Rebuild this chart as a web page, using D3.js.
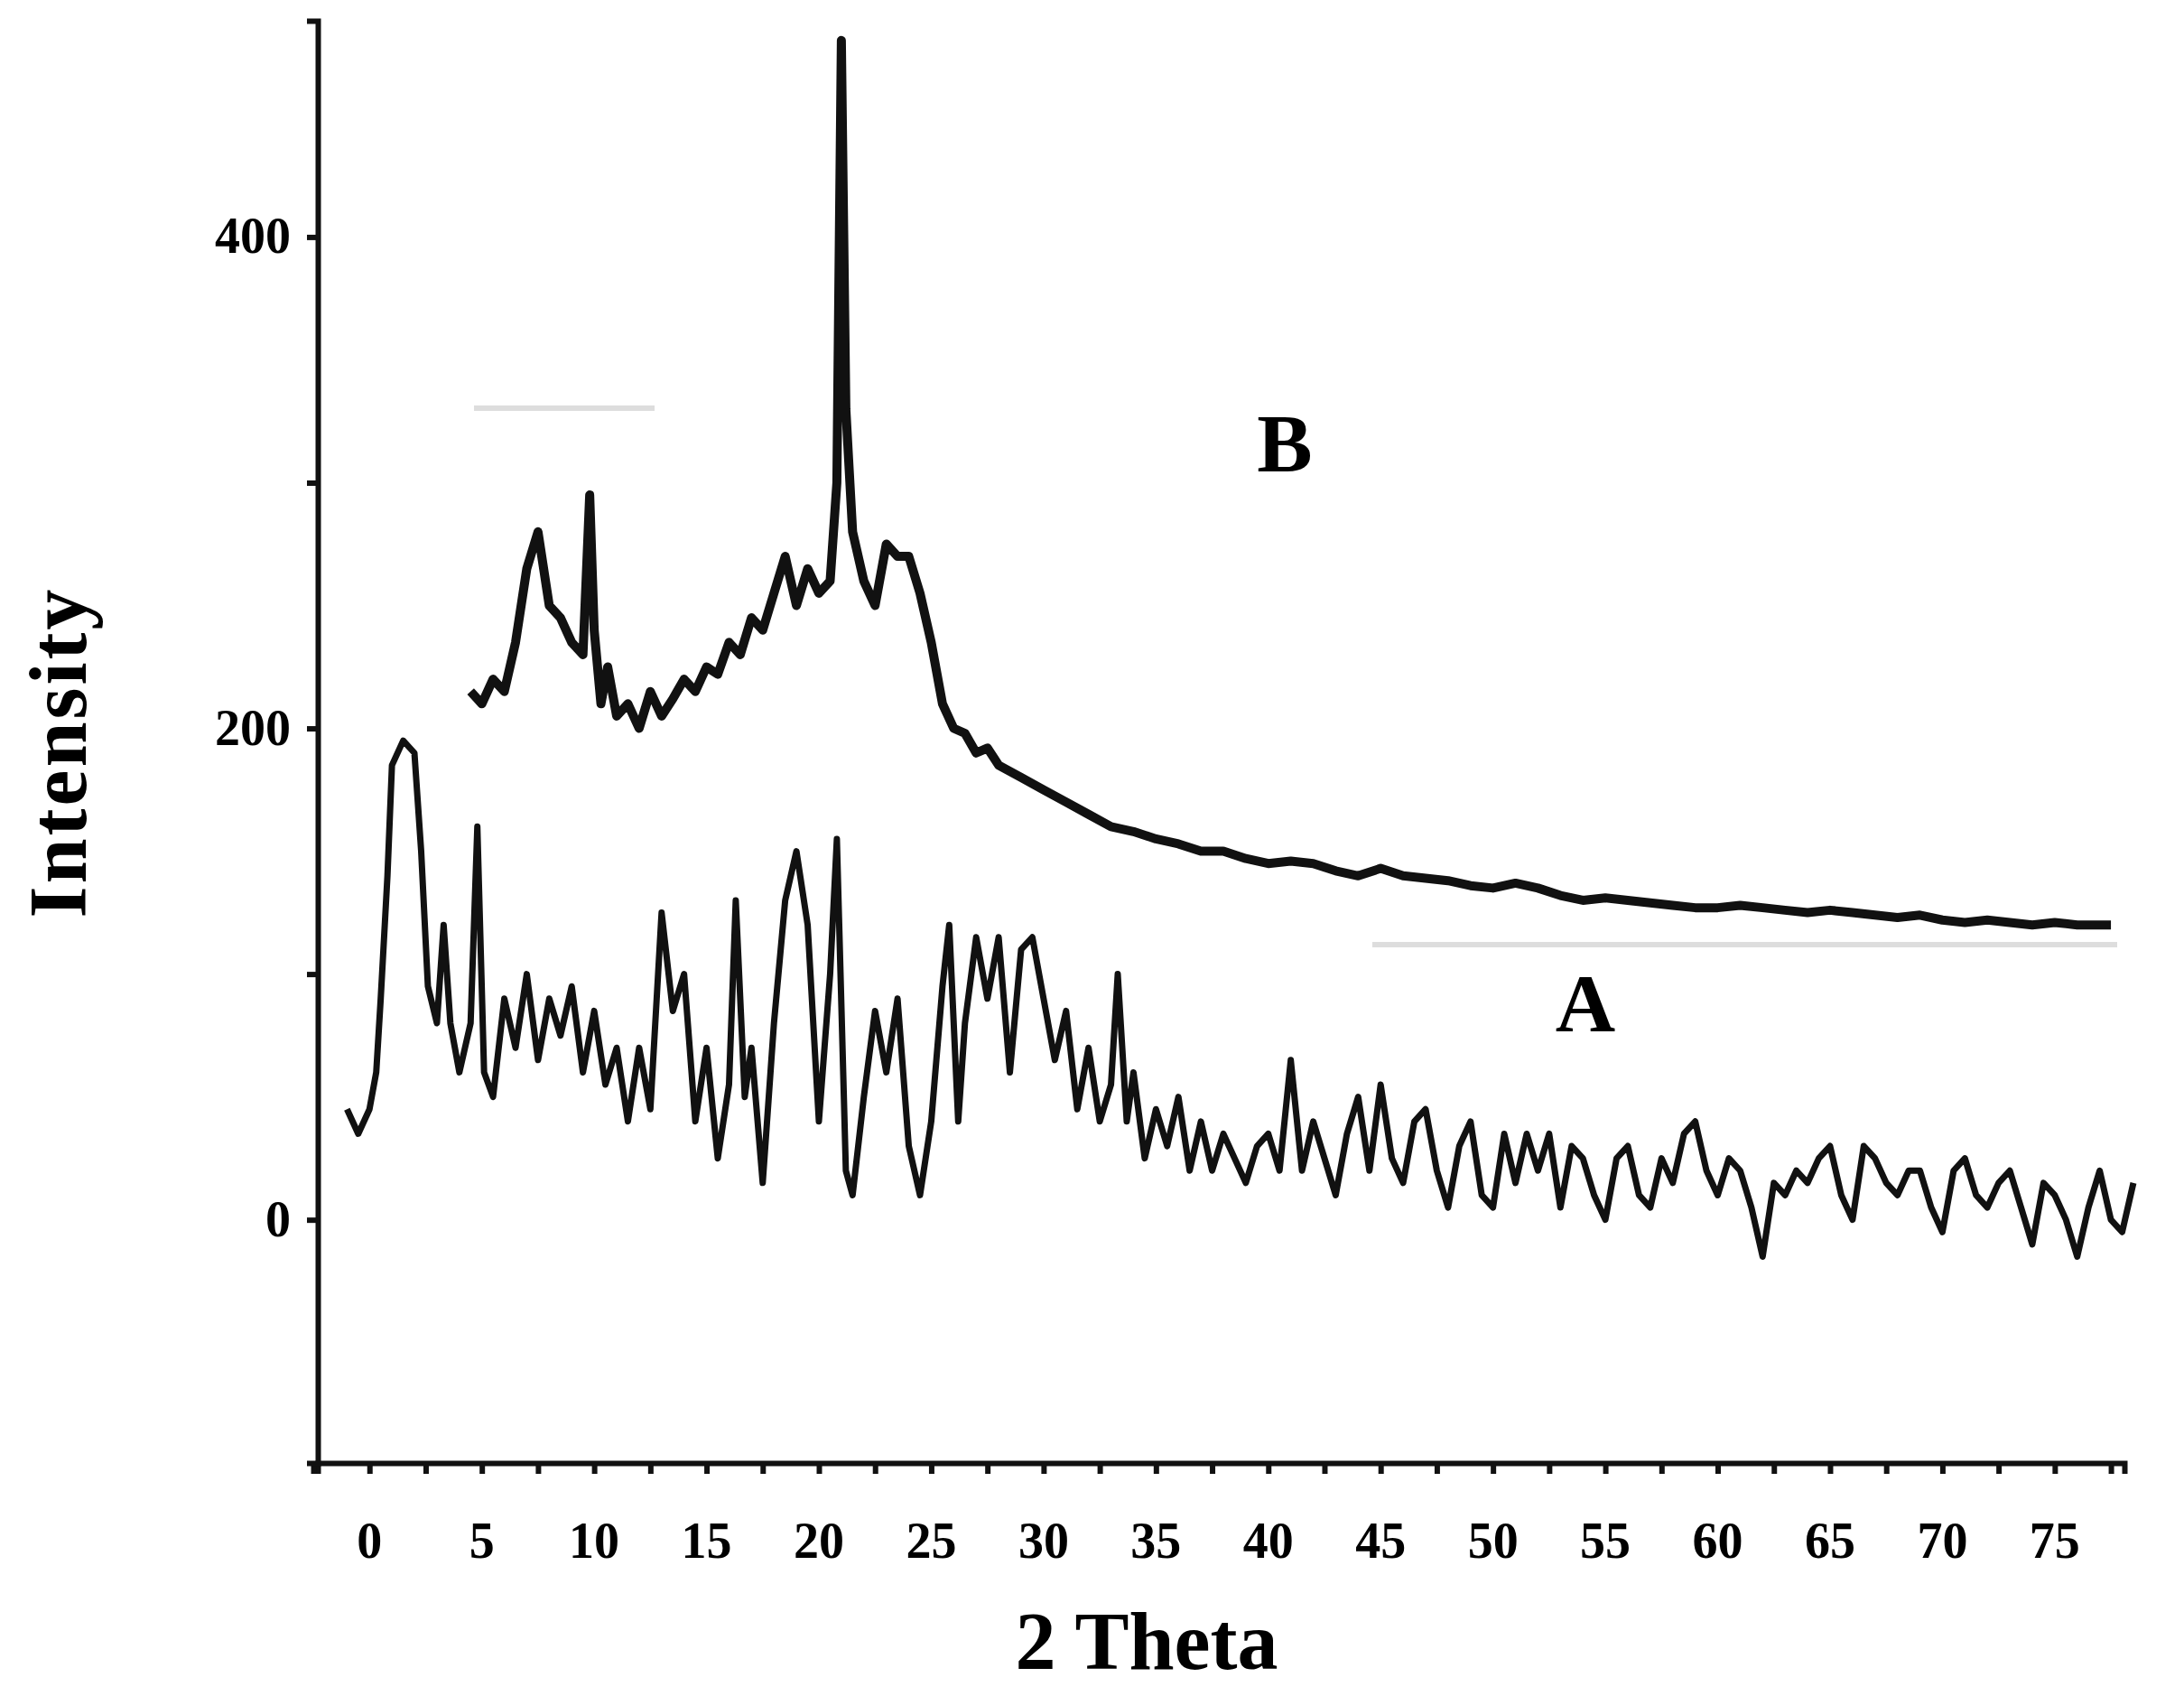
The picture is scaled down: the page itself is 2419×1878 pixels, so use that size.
<!DOCTYPE html>
<html><head><meta charset="utf-8">
<script src="https://cdn.jsdelivr.net/npm/d3@7"></script>
<style>body{margin:0;background:#fff}</style></head>
<body><svg id="c" width="2419" height="1878"></svg>
<script>
const xTicks=[0,5,10,15,20,25,30,35,40,45,50,55,60,65,70,75];
const yTicks=[0,200,400];
const xA=[-1,-0.5,0,0.3,0.5,0.8,1,1.5,2,2.3,2.6,3,3.3,3.6,4,4.5,4.8,5.1,5.5,6,6.5,7,7.5,8,8.5,9,9.5,10,10.5,11,11.5,12,12.5,13,13.5,14,14.5,15,15.5,16,16.3,16.7,17,17.5,18,18.5,19,19.5,20,20.5,20.8,21.2,21.5,22,22.5,23,23.5,24,24.5,25,25.5,25.8,26.2,26.5,27,27.5,28,28.5,29,29.5,30,30.5,31,31.5,32,32.5,33,33.3,33.7,34,34.5,35,35.5,36,36.5,37,37.5,38,38.5,39,39.5,40,40.5,41,41.5,42,42.5,43,43.5,44,44.5,45,45.5,46,46.5,47,47.5,48,48.5,49,49.5,50,50.5,51,51.5,52,52.5,53,53.5,54,54.5,55,55.5,56,56.5,57,57.5,58,58.5,59,59.5,60,60.5,61,61.5,62,62.5,63,63.5,64,64.5,65,65.5,66,66.5,67,67.5,68,68.5,69,69.5,70,70.5,71,71.5,72,72.5,73,73.5,74,74.5,75,75.5,76,76.5,77,77.5,78,78.5];
const yA=[45,35,45,60,90,140,185,195,190,150,95,80,120,80,60,80,160,60,50,90,70,100,65,90,75,95,60,85,55,70,40,70,45,125,85,100,40,70,25,55,130,50,70,15,80,130,150,120,40,100,155,20,10,50,85,60,90,30,10,40,95,120,40,80,115,90,115,60,110,115,90,65,85,45,70,40,55,100,40,60,25,45,30,50,20,40,20,35,25,15,30,35,20,65,20,40,25,10,35,50,20,55,25,15,40,45,20,5,30,40,10,5,35,15,35,20,35,5,30,25,10,0,25,30,10,5,25,15,35,40,20,10,25,20,5,-15,15,10,20,15,25,30,10,0,30,25,15,10,20,20,5,-5,20,25,10,5,15,20,5,-10,15,10,0,-15,5,20,0,-5,15];
const xB=[4.5,5,5.5,6,6.5,7,7.5,8,8.5,9,9.5,9.8,10,10.3,10.6,11,11.5,12,12.5,13,13.5,14,14.5,15,15.5,16,16.5,17,17.5,18,18.5,19,19.5,20,20.5,20.8,21,21.2,21.5,22,22.5,23,23.5,24,24.5,25,25.5,26,26.5,27,27.5,28,29,30,31,32,33,34,35,36,37,38,39,40,41,42,43,44,45,46,47,48,49,50,51,52,53,54,55,56,57,58,59,60,61,62,63,64,65,66,67,68,69,70,71,72,73,74,75,76,77,77.5];
const yB=[215,210,220,215,235,265,280,250,245,235,230,295,240,210,225,205,210,200,215,205,212,220,215,225,222,235,230,245,240,255,270,250,265,255,260,300,480,330,280,260,250,275,270,270,255,235,210,200,198,190,192,185,180,175,170,165,160,158,155,153,150,150,147,145,146,145,142,140,143,140,139,138,136,135,137,135,132,130,131,130,129,128,127,127,128,127,126,125,126,125,124,123,124,122,121,122,121,120,121,120,120,120];
const x=d3.scaleLinear().domain([-2.3,78.1]).range([352,2353]);
const y=d3.scaleLinear().domain([-99,488]).range([1620,23]);
const svg=d3.select("#c");
const font="'Liberation Serif','DejaVu Serif',serif";
svg.append("line").attr("x1",525).attr("x2",725).attr("y1",452).attr("y2",452).attr("stroke","#ddd").attr("stroke-width",6);
svg.append("line").attr("x1",1520).attr("x2",2345).attr("y1",1046).attr("y2",1046).attr("stroke","#ddd").attr("stroke-width",6);
const line=d3.line().x(d=>x(d[0])).y(d=>y(d[1]));
svg.append("path").datum(xA.map((v,i)=>[v,yA[i]])).attr("d",line).attr("fill","none").attr("stroke","#111").attr("stroke-width",7).attr("stroke-linejoin","round");
svg.append("path").datum(xB.map((v,i)=>[v,yB[i]])).attr("d",line).attr("fill","none").attr("stroke","#111").attr("stroke-width",10).attr("stroke-linejoin","round");
const ax=svg.append("g").attr("transform","translate(0,1620)").call(d3.axisBottom(x).tickValues(d3.range(-2.5,78.1,2.5)).tickSize(12).tickFormat(""));
ax.selectAll("path,line").attr("stroke","#111").attr("stroke-width",6);
svg.selectAll(".xl").data(xTicks).enter().append("text").attr("x",d=>x(d)).attr("y",1725).attr("text-anchor","middle")
 .attr("font-family",font).attr("font-weight","bold").attr("font-size",56).text(d=>d);
const ay=svg.append("g").attr("transform","translate(352,0)").call(d3.axisLeft(y).tickValues([0,100,200,300,400]).tickSize(12).tickFormat(""));
ay.selectAll("path,line").attr("stroke","#111").attr("stroke-width",6);
svg.selectAll(".yl").data(yTicks).enter().append("text").attr("x",322).attr("y",d=>y(d)+18).attr("text-anchor","end")
 .attr("font-family",font).attr("font-weight","bold").attr("font-size",56).text(d=>d);
svg.append("text").attr("x",1270).attr("y",1848).attr("text-anchor","middle").attr("font-family",font).attr("font-weight","bold").attr("font-size",90).text("2 Theta");
svg.append("text").attr("transform","translate(95,833) rotate(-90)").attr("text-anchor","middle").attr("font-family",font).attr("font-weight","bold").attr("font-size",90).attr("letter-spacing",3).text("Intensity");
svg.append("text").attr("x",1423).attr("y",522).attr("text-anchor","middle").attr("font-family",font).attr("font-weight","bold").attr("font-size",92).text("B");
svg.append("text").attr("x",1756).attr("y",1142).attr("text-anchor","middle").attr("font-family",font).attr("font-weight","bold").attr("font-size",92).text("A");
</script></body></html>
